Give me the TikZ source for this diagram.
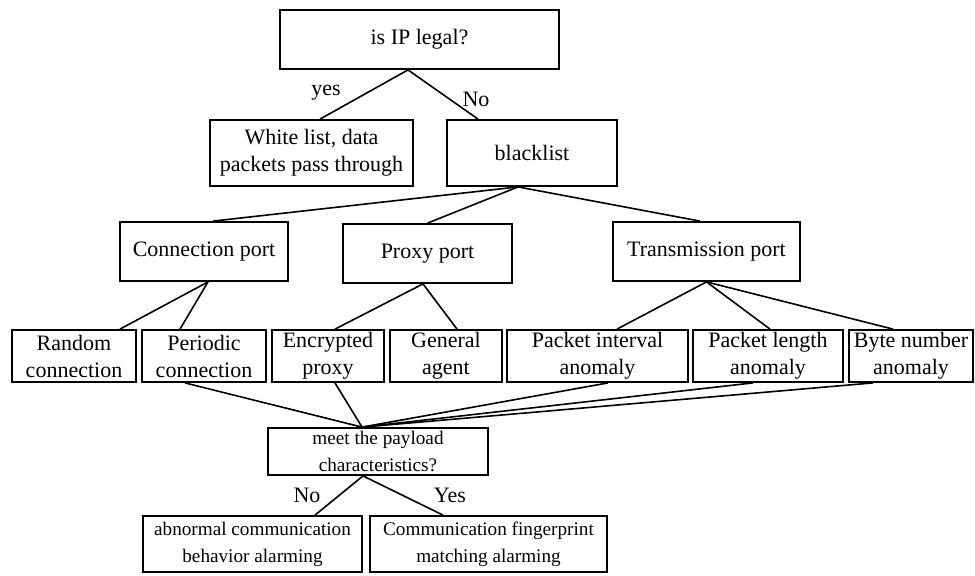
\documentclass[tikz,border=0pt]{standalone}
\usepackage{fontspec}
\setmainfont{Liberation Serif}
\usepackage{tikz}

\tikzset{
  box/.style={draw, line width=0.9pt, inner sep=0pt, align=center,
    font=\fontsize{11}{13.5}\selectfont},
  small/.style={font=\fontsize{9.6}{13.5}\selectfont},
  link/.style={line width=0.8pt},
  tag/.style={inner sep=0pt, font=\fontsize{11}{13.5}\selectfont}
}

\begin{document}
\begin{tikzpicture}[x=0.5pt, y=-0.5pt]
  \useasboundingbox (0,0) rectangle (975,575);

  %% first decision
  \node[box, minimum width=139.5pt, minimum height=29.5pt] (ip) at (419.5,39.5) {is IP legal?};
  \node[box, minimum width=101.5pt, minimum height=33pt] (white) at (311.5,153)
    {White list, data\\packets pass through};
  \node[box, minimum width=85pt, minimum height=33pt] (black) at (532,153) {blacklist};
  \draw[link] ([xshift=-5.75pt]ip.south) -- ([xshift=4.25pt]white.north);
  \draw[link] ([xshift=-5.75pt]ip.south) -- ([xshift=-27pt]black.north);
  \node[tag] (yes1) at (326,93) {yes};
  \node[tag] (no1) at (476,99) {No};

  %% port types
  \node[box, minimum width=84pt, minimum height=29.5pt] (conn) at (204,251.5) {Connection port};
  \node[box, minimum width=84.5pt, minimum height=29.5pt] (proxy) at (427.5,253.5) {Proxy port};
  \node[box, minimum width=93.5pt, minimum height=29.5pt] (trans) at (706.5,251.5) {Transmission port};
  \draw[link] ([xshift=-7pt]black.south) -- ([xshift=4.5pt]conn.north);
  \draw[link] ([xshift=-7pt]black.south) -- (proxy.north);
  \draw[link] ([xshift=-7pt]black.south) -- ([xshift=-3.25pt]trans.north);

  %% features
  \node[box, minimum width=62pt, minimum height=26pt] (rnd) at (74,356) {Random\\connection};
  \node[box, minimum width=62pt, minimum height=26pt] (per) at (204,356) {Periodic\\connection};
  \node[box, minimum width=56pt, minimum height=26pt] (enc) at (328,356) {Encrypted\\proxy};
  \node[box, minimum width=56pt, minimum height=26pt] (gen) at (446,356) {General\\agent};
  \node[box, minimum width=90.5pt, minimum height=26pt] (pint) at (597.5,356) {Packet interval\\anomaly};
  \node[box, minimum width=75pt, minimum height=26pt] (plen) at (768,356) {Packet length\\anomaly};
  \node[box, minimum width=62pt, minimum height=26pt] (bnum) at (911,356) {Byte number\\anomaly};
  \draw[link] ([xshift=2pt]conn.south) -- ([xshift=23pt]rnd.north);
  \draw[link] ([xshift=2pt]conn.south) -- ([xshift=-12pt]per.north);
  \draw[link] ([xshift=-2.25pt]proxy.south) -- ([xshift=3.5pt]enc.north);
  \draw[link] ([xshift=-2.25pt]proxy.south) -- ([xshift=5.5pt]gen.north);
  \draw[link] (trans.south) -- ([xshift=9.75pt]pint.north);
  \draw[link] (trans.south) -- ([xshift=1pt]plen.north);
  \draw[link] (trans.south) -- ([xshift=-9pt]bnum.north);

  %% payload check
  \node[box, small, minimum width=110pt, minimum height=23.5pt] (pay) at (378,451.5)
    {meet the payload\\characteristics?};
  \foreach \src/\dx in {per/-9.5pt, enc/3.5pt, pint/5.25pt, plen/-7.5pt, bnum/-19pt}
    \draw[link] ([xshift=\dx]\src.south) -- ([xshift=-8pt]pay.north);

  %% alarms
  \node[box, small, minimum width=109.5pt, minimum height=28pt] (abn) at (252.5,544)
    {abnormal communication\\behavior alarming};
  \node[box, small, minimum width=118.5pt, minimum height=28pt] (fing) at (488.5,544)
    {Communication fingerprint\\matching alarming};
  \draw[link] ([xshift=-7.5pt]pay.south) -- ([xshift=31.25pt]abn.north);
  \draw[link] ([xshift=-7.5pt]pay.south) -- ([xshift=-22.75pt]fing.north);
  \node[tag] (no2) at (307,495) {No};
  \node[tag] (yes2) at (450,495) {Yes};
\end{tikzpicture}
\end{document}
